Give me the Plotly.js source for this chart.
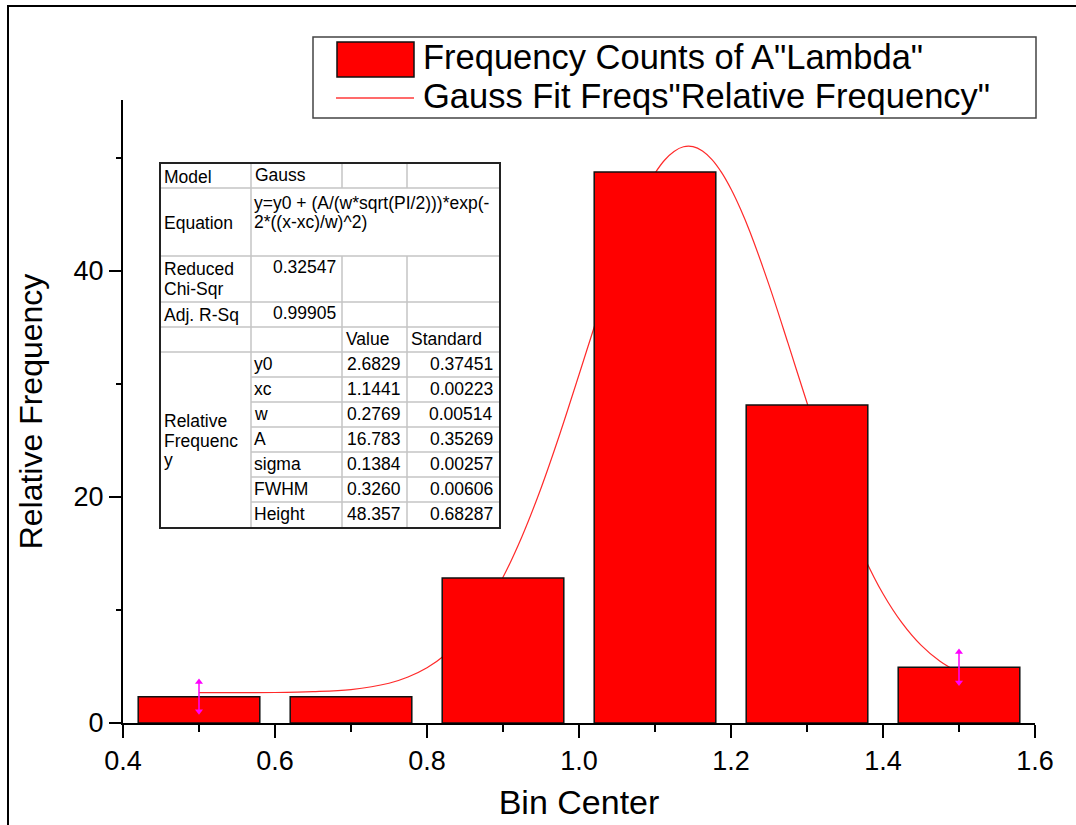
<!DOCTYPE html>
<html>
<head>
<meta charset="utf-8">
<script src="https://cdn.plot.ly/plotly-3.0.1.min.js"></script>
<style>html,body{margin:0;padding:0;background:#fff;}</style>
</head>
<body>
<div id="chart" style="width:1076px;height:825px;"></div>
<script>
// ---- data ----
const binCenters = [0.5, 0.7, 0.9, 1.1, 1.3, 1.5];
const relFreq = [2.33, 2.33, 12.83, 48.76, 28.14, 4.93];
const errX = [0.5, 1.5];
const errY = [2.33, 4.93];
const errSize = [1.3, 1.35];
const fitX = [0.50,0.55,0.60,0.65,0.70,0.75,0.775,0.80,0.825,0.85,0.875,0.90,0.925,0.95,0.975,1.00,1.025,1.05,1.075,1.0875,1.10,1.1125,1.125,1.1375,1.15,1.1625,1.175,1.1875,1.20,1.2125,1.225,1.25,1.275,1.30,1.325,1.35,1.375,1.40,1.425,1.45,1.475,1.50];
const fitY = [2.68,2.69,2.70,2.77,2.96,3.52,4.07,4.89,6.08,7.75,10.00,12.90,16.51,20.78,25.62,30.82,36.08,41.07,45.38,47.16,48.65,49.80,50.58,50.99,51.00,50.61,49.85,48.72,47.25,45.48,43.45,38.77,33.61,28.34,23.28,18.69,14.72,11.44,8.86,6.89,5.46,4.46];
const seriesNames = ['Frequency Counts of A"Lambda"', 'Gauss Fit Freqs"Relative Frequency"'];
const xTickVals = [0.4, 0.6, 0.8, 1.0, 1.2, 1.4, 1.6];
const yTickVals = [0, 20, 40];
const xTitle = 'Bin Center';
const yTitle = 'Relative Frequency';
// fit report table
const modelName = 'Gauss';
const equationLines = ['y=y0 + (A/(w*sqrt(PI/2)))*exp(-', '2*((x-xc)/w)^2)'];
const redChiSqr = '0.32547';
const adjRSq = '0.99905';
const paramNames = ['y0', 'xc', 'w', 'A', 'sigma', 'FWHM', 'Height'];
const paramValues = ['2.6829', '1.1441', '0.2769', '16.783', '0.1384', '0.3260', '48.357'];
const paramErrors = ['0.37451', '0.00223', '0.00514', '0.35269', '0.00257', '0.00606', '0.68287'];

// ---- layout helpers ----
const W = 1076, H = 825;
const M = {l: 123, r: 41, t: 100, b: 102};
const PW = W - M.l - M.r, PH = H - M.t - M.b;
const FONT = 'Arial, "Liberation Sans", sans-serif';
const px = x => (x - M.l) / PW;
const py = y => (H - M.b - y) / PH;
const yMax = 55.13;
const TS = 17.5;

function txt(text, x, y, anchor, size) {
  return {text: text, xref: 'paper', yref: 'paper', x: px(x), y: py(y),
    xanchor: anchor || 'left', yanchor: 'middle', showarrow: false,
    borderpad: 0, borderwidth: 0,
    font: {family: FONT, size: size || TS, color: '#000'}};
}
function line(x0, y0, x1, y1, color, width) {
  return {type: 'line', xref: 'paper', yref: 'paper', x0: px(x0), y0: py(y0), x1: px(x1), y1: py(y1),
    line: {color: color, width: width}, layer: 'above'};
}
function rect(x0, y0, x1, y1, fill, color, width) {
  return {type: 'rect', xref: 'paper', yref: 'paper', x0: px(x0), y0: py(y0), x1: px(x1), y1: py(y1),
    fillcolor: fill, line: {color: color, width: width}, layer: 'above'};
}

// ---- traces ----
const fitTrace = {
  type: 'scatter', mode: 'lines', x: fitX, y: fitY, name: seriesNames[1],
  line: {color: '#ff2a2a', width: 1.2, shape: 'spline', smoothing: 1},
  xaxis: 'x', yaxis: 'y', showlegend: false, hoverinfo: 'skip'
};
const barTrace = {
  type: 'bar', x: binCenters, y: relFreq, name: seriesNames[0], width: 0.16,
  marker: {color: '#ff0000', line: {color: '#111', width: 1.5}},
  xaxis: 'x2', yaxis: 'y2', showlegend: false
};
const errTrace = {
  type: 'scatter', mode: 'markers', x: errX, y: errY,
  marker: {size: 1, color: '#ff00ff'},
  error_y: {type: 'data', array: errSize, visible: true, color: '#ff00ff', thickness: 1.5, width: 0},
  xaxis: 'x2', yaxis: 'y2', showlegend: false, hoverinfo: 'skip'
};
const arrowX = [], arrowY = [], arrowSym = [];
errX.forEach((x, i) => {
  arrowX.push(x, x);
  arrowY.push(errY[i] + errSize[i], errY[i] - errSize[i]);
  arrowSym.push('triangle-up', 'triangle-down');
});
const arrowTrace = {
  type: 'scatter', mode: 'markers', x: arrowX, y: arrowY,
  marker: {size: 7, color: '#ff00ff', symbol: arrowSym},
  xaxis: 'x2', yaxis: 'y2', showlegend: false, hoverinfo: 'skip'
};

// ---- shapes & annotations ----
const shapes = [];
const annotations = [];
// outer frame
shapes.push(rect(8, 6, 1120, 870, 'rgba(0,0,0,0)', '#000', 2));
// legend
shapes.push(rect(313, 37, 1036, 118, '#fff', '#444', 1.5));
shapes.push(rect(337, 42, 414, 77, '#ff0000', '#111', 1.5));
shapes.push(line(336, 98, 414, 98, '#ff3a3a', 1.5));
annotations.push(txt(seriesNames[0], 423, 57, 'left', 34.5));
annotations.push(txt(seriesNames[1], 423, 96, 'left', 34.5));

// fit table
const tL = 160, c1 = 251, c2 = 342, c3 = 407, tR = 500;
const rows = [163, 188, 256, 302, 327, 352, 377, 402, 427, 452, 477, 502, 528];
const grey = '#c4c4c4';
shapes.push(rect(tL, rows[0], tR, rows[12], '#fff', 'rgba(0,0,0,0)', 0));
// horizontal inner lines
[1, 2, 3, 4, 5].forEach(i => shapes.push(line(tL, rows[i], tR, rows[i], grey, 1.5)));
[6, 7, 8, 9, 10, 11].forEach(i => shapes.push(line(c1, rows[i], tR, rows[i], grey, 1.5)));
// vertical inner lines
shapes.push(line(c1, rows[0], c1, rows[12], grey, 1.5));
[c2, c3].forEach(c => {
  shapes.push(line(c, rows[0], c, rows[1], grey, 1.5));
  shapes.push(line(c, rows[2], c, rows[12], grey, 1.5));
});
shapes.push(rect(tL, rows[0], tR, rows[12], 'rgba(0,0,0,0)', '#222', 2));

annotations.push(txt('Model', 164, 177));
annotations.push(txt(modelName, 255, 175));
annotations.push(txt('Equation', 164, 223));
annotations.push(txt(equationLines[0], 254, 203));
annotations.push(txt(equationLines[1], 254, 222));
annotations.push(txt('Reduced', 164, 269));
annotations.push(txt('Chi-Sqr', 164, 289));
annotations.push(txt(redChiSqr, 336, 267, 'right'));
annotations.push(txt('Adj. R-Sq', 164, 315));
annotations.push(txt(adjRSq, 336, 313, 'right'));
annotations.push(txt('Value', 346, 339));
annotations.push(txt('Standard', 411, 339));
paramNames.forEach((n, i) => {
  const yc = rows[5] + 12 + 25 * i;
  annotations.push(txt(n, 254, yc));
  annotations.push(txt(paramValues[i], 401, yc, 'right'));
  annotations.push(txt(paramErrors[i], 493, yc, 'right'));
});
annotations.push(txt('Relative', 164, 421));
annotations.push(txt('Frequenc', 164, 441));
annotations.push(txt('y', 164, 460));

const axisCommon = {
  showline: true, linewidth: 2, linecolor: '#000', showgrid: false, zeroline: false,
  ticks: 'outside', tickwidth: 2, tickcolor: '#000', fixedrange: true,
  tickfont: {family: FONT, size: 27, color: '#000'}
};

const layout = {
  width: W, height: H,
  margin: {l: M.l, r: M.r, t: M.t, b: M.b, pad: 0},
  paper_bgcolor: '#fff', plot_bgcolor: '#fff',
  showlegend: false,
  font: {family: FONT, color: '#000'},
  xaxis: Object.assign({}, axisCommon, {
    range: [0.4, 1.6], tickmode: 'array', tickvals: xTickVals, tickformat: '.1f', ticklen: 13,
    minor: {ticks: 'outside', ticklen: 7, tickwidth: 2, tickcolor: '#000', dtick: 0.1, tick0: 0.4, showgrid: false},
    title: {text: xTitle, font: {family: FONT, size: 34, color: '#000'}, standoff: 15}
  }),
  yaxis: Object.assign({}, axisCommon, {
    range: [0, yMax], tickmode: 'array', tickvals: yTickVals, ticklen: 12,
    minor: {ticks: 'outside', ticklen: 5, tickwidth: 2, tickcolor: '#000', dtick: 10, tick0: 0, showgrid: false},
    title: {text: yTitle, font: {family: FONT, size: 32, color: '#000'}, standoff: 21}
  }),
  xaxis2: {overlaying: 'x', range: [0.4, 1.6], visible: false, fixedrange: true},
  yaxis2: {overlaying: 'y', range: [0, yMax], visible: false, fixedrange: true},
  shapes: shapes,
  annotations: annotations
};

Plotly.newPlot('chart', [fitTrace, barTrace, errTrace, arrowTrace], layout, {displayModeBar: false, staticPlot: true});
</script>
</body>
</html>
